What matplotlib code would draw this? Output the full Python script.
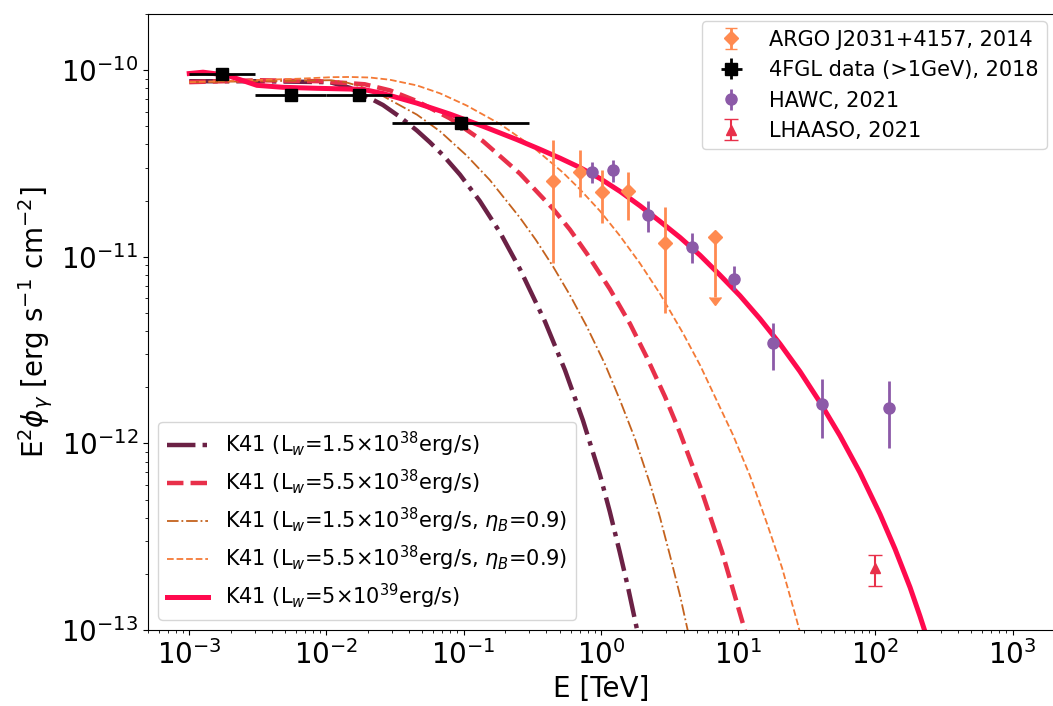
import numpy as np
import matplotlib
matplotlib.use('Agg')
import matplotlib.pyplot as plt

# ---- data ----
# 4FGL (>1 GeV), energy bins in TeV
fgl_E = [1.73e-3, 5.48e-3, 1.73e-2, 9.49e-2]
fgl_Elo = [1.0e-3, 3.0e-3, 1.0e-2, 3.0e-2]
fgl_Ehi = [3.0e-3, 1.0e-2, 3.0e-2, 3.0e-1]
fgl_F = [9.6e-11, 7.4e-11, 7.4e-11, 5.2e-11]
fgl_Flo = [9.2e-11, 7.1e-11, 7.1e-11, 4.8e-11]
fgl_Fhi = [1.0e-10, 7.7e-11, 7.7e-11, 5.6e-11]

# ARGO J2031+4157
argo_E = [0.447, 0.703, 1.02, 1.57, 2.93]
argo_F = [2.54e-11, 2.85e-11, 2.22e-11, 2.25e-11, 1.18e-11]
argo_Flo = [9.25e-12, 2.09e-11, 1.52e-11, 1.57e-11, 4.99e-12]
argo_Fhi = [4.22e-11, 3.73e-11, 2.91e-11, 2.85e-11, 1.85e-11]
argo_ul_E = [6.78]
argo_ul_F = [1.28e-11]
argo_ul_Flo = [6.1e-12]

# HAWC
hawc_E = [0.86, 1.22, 2.20, 4.61, 9.31, 17.9, 40.8, 126.0]
hawc_F = [2.85e-11, 2.91e-11, 1.67e-11, 1.13e-11, 7.60e-12, 3.45e-12, 1.63e-12, 1.55e-12]
hawc_Flo = [2.48e-11, 2.52e-11, 1.36e-11, 9.25e-12, 6.64e-12, 2.47e-12, 1.07e-12, 9.45e-13]
hawc_Fhi = [3.21e-11, 3.29e-11, 1.99e-11, 1.34e-11, 8.92e-12, 4.41e-12, 2.21e-12, 2.16e-12]

# LHAASO
lhaaso_E = [100.0]
lhaaso_F = [2.15e-13]
lhaaso_Flo = [1.72e-13]
lhaaso_Fhi = [2.52e-13]

# model curves
# K41, Lw=1.5e38
k41_a_E = [1e-3, 3.27e-3, 1.06e-2, 1.48e-2, 2.58e-2, 3.43e-2, 4.56e-2, 5.67e-2, 7.05e-2, 9.38e-2,
           0.131, 0.184, 0.257, 0.391, 0.547, 0.739, 0.984, 1.16, 1.37, 1.57,
           1.83, 2.09]
k41_a_F = [8.73e-11, 8.73e-11, 8.63e-11, 8.05e-11, 6.51e-11, 5.62e-11, 4.75e-11, 4.11e-11, 3.51e-11, 2.76e-11,
           1.99e-11, 1.35e-11, 8.59e-12, 4.50e-12, 2.47e-12, 1.33e-12, 6.78e-13, 4.31e-13, 2.62e-13, 1.71e-13,
           1.01e-13, 6.1e-14]

# K41, Lw=5.5e38
k41_b_E = [1e-3, 3.27e-3, 8.95e-3, 1.90e-2, 2.90e-2, 4.56e-2, 7.93e-2, 0.138, 0.257, 0.447,
           0.594, 0.790, 1.16, 1.63, 2.16, 2.93, 3.77, 5.27, 7.63, 10.8,
           12.2]
k41_b_F = [8.63e-11, 8.84e-11, 8.73e-11, 8.41e-11, 7.80e-11, 6.83e-11, 5.52e-11, 4.17e-11, 2.79e-11, 1.81e-11,
           1.40e-11, 1.04e-11, 6.73e-12, 4.37e-12, 2.89e-12, 1.78e-12, 1.14e-12, 5.91e-13, 2.62e-13, 1.09e-13,
           7.9e-14]

# K41, Lw=1.5e38, etaB=0.9
k41_c_E = [1e-3, 3.27e-3, 1.06e-2, 1.36e-2, 1.75e-2, 2.58e-2, 4.56e-2, 6.71e-2, 0.105, 0.155,
           0.257, 0.336, 0.447, 0.594, 0.790, 1.07, 1.37, 1.77, 2.28, 2.69,
           3.18, 3.77, 4.31, 4.76]
k41_c_F = [8.63e-11, 8.73e-11, 8.84e-11, 8.64e-11, 8.21e-11, 7.27e-11, 5.78e-11, 4.71e-11, 3.49e-11, 2.58e-11,
           1.62e-11, 1.23e-11, 8.89e-12, 6.24e-12, 4.22e-12, 2.66e-12, 1.72e-12, 1.06e-12, 6.07e-13, 4.03e-13,
           2.52e-13, 1.53e-13, 9.8e-14, 6.9e-14]

# K41, Lw=5.5e38, etaB=0.9
k41_d_E = [1e-3, 2.77e-3, 6.40e-3, 1.11e-2, 1.48e-2, 2.07e-2, 2.90e-2, 4.56e-2, 6.71e-2, 0.105,
           0.184, 0.319, 0.528, 0.703, 0.984, 1.37, 1.92, 2.69, 3.96, 5.27,
           9.17, 12.2, 16.2, 20.9, 26.8, 30.7]
k41_d_F = [8.63e-11, 8.84e-11, 9.01e-11, 9.18e-11, 9.2e-11, 9.14e-11, 8.89e-11, 8.29e-11, 7.52e-11, 6.47e-11,
           5.15e-11, 3.88e-11, 2.83e-11, 2.30e-11, 1.76e-11, 1.30e-11, 9.25e-12, 6.35e-12, 3.90e-12, 2.63e-12,
           1.11e-12, 6.70e-13, 3.73e-13, 2.15e-13, 1.12e-13, 7.7e-14]

# K41, Lw=5e39
k41_e_E = [1e-3, 1.26e-3, 1.88e-3, 3.11e-3, 4.81e-3, 8.5e-3, 1.84e-2, 2.58e-2, 4.56e-2, 7.93e-2,
           0.138, 0.244, 0.359, 0.503, 0.703, 0.984, 1.38, 1.92, 2.69, 3.77,
           5.27, 7.37, 10.3, 14.4, 20.2, 28.2, 39.5, 55.2, 77.2, 108.0,
           139.0, 179.0, 211.0, 250.0]
k41_e_F = [9.6e-11, 9.76e-11, 9.4e-11, 8.3e-11, 8.1e-11, 8.0e-11, 7.9e-11, 7.5e-11, 6.66e-11, 5.82e-11,
           5.01e-11, 4.25e-11, 3.77e-11, 3.38e-11, 3.01e-11, 2.63e-11, 2.24e-11, 1.88e-11, 1.55e-11, 1.27e-11,
           1.02e-11, 7.98e-12, 6.19e-12, 4.66e-12, 3.41e-12, 2.43e-12, 1.66e-12, 1.10e-12, 6.98e-13, 4.18e-13,
           2.72e-13, 1.69e-13, 1.19e-13, 8.1e-14]

x_ticks = [1e-3, 1e-2, 1e-1, 1e0, 1e1, 1e2, 1e3]
y_ticks = [1e-13, 1e-12, 1e-11, 1e-10]

c_maroon = '#6b2145'
c_red = '#e8304a'
c_brown = '#c4621e'
c_orange = '#f47a36'
c_crimson = '#ff0a4e'
c_argo = '#ff8a50'
c_hawc = '#8c5aa8'

fig = plt.figure(figsize=(10.53, 7.06), dpi=100)
ax = fig.add_axes([0.1405, 0.1076, 0.8604, 0.8725])

l1, = ax.plot(k41_a_E, k41_a_F, color=c_maroon, ls='-.', lw=3.2,
              label=r'K41 (L$_w$=1.5$\times$10$^{38}$erg/s)')
l2, = ax.plot(k41_b_E, k41_b_F, color=c_red, ls='--', lw=3.2,
              label=r'K41 (L$_w$=5.5$\times$10$^{38}$erg/s)')
l3, = ax.plot(k41_c_E, k41_c_F, color=c_brown, ls='-.', lw=1.3,
              label=r'K41 (L$_w$=1.5$\times$10$^{38}$erg/s, $\eta_B$=0.9)')
l4, = ax.plot(k41_d_E, k41_d_F, color=c_orange, ls='--', lw=1.3,
              label=r'K41 (L$_w$=5.5$\times$10$^{38}$erg/s, $\eta_B$=0.9)')
l5, = ax.plot(k41_e_E, k41_e_F, color=c_crimson, ls='-', lw=3.6,
              label=r'K41 (L$_w$=5$\times$10$^{39}$erg/s)')

argo_yerr = [np.array(argo_F) - np.array(argo_Flo), np.array(argo_Fhi) - np.array(argo_F)]
ax.errorbar(argo_E, argo_F, yerr=argo_yerr, fmt='D', color=c_argo, ms=7, lw=2, capsize=0)
e1 = ax.errorbar(argo_ul_E, argo_ul_F, yerr=[np.array(argo_ul_F) - np.array(argo_ul_Flo), [0]],
                 uplims=True, fmt='D', color=c_argo, ms=7, lw=2, capsize=4,
                 label='ARGO J2031+4157, 2014')

fgl_xerr = [np.array(fgl_E) - np.array(fgl_Elo), np.array(fgl_Ehi) - np.array(fgl_E)]
fgl_yerr = [np.array(fgl_F) - np.array(fgl_Flo), np.array(fgl_Fhi) - np.array(fgl_F)]
e2 = ax.errorbar(fgl_E, fgl_F, xerr=fgl_xerr, yerr=fgl_yerr, fmt='s', color='black', ms=8,
                 lw=2, capsize=0, label='4FGL data (>1GeV), 2018')

hawc_yerr = [np.array(hawc_F) - np.array(hawc_Flo), np.array(hawc_Fhi) - np.array(hawc_F)]
e3 = ax.errorbar(hawc_E, hawc_F, yerr=hawc_yerr, fmt='o', color=c_hawc, ms=8, lw=2, capsize=0,
                 label='HAWC, 2021')

lh_yerr = [np.array(lhaaso_F) - np.array(lhaaso_Flo), np.array(lhaaso_Fhi) - np.array(lhaaso_F)]
e4 = ax.errorbar(lhaaso_E, lhaaso_F, yerr=lh_yerr, fmt='^', color=c_red, ms=7, lw=1.5, capsize=5,
                 label='LHAASO, 2021')

ax.set_xscale('log')
ax.set_yscale('log')
ax.set_xticks(x_ticks)
ax.set_yticks(y_ticks)
ax.set_xlim(5e-4, 2e3)
ax.set_ylim(1e-13, 2e-10)
ax.set_xlabel('E [TeV]', fontsize=20)
ax.set_ylabel(r'E$^2\phi_\gamma$ [erg s$^{-1}$ cm$^{-2}$]', fontsize=20)
ax.tick_params(labelsize=20)

leg1 = ax.legend(handles=[e1, e2, e3, e4], loc='upper right', fontsize=15, borderaxespad=0.35)
ax.add_artist(leg1)
ax.legend(handles=[l1, l2, l3, l4, l5], loc='lower left', fontsize=15, labelspacing=0.42)

fig.savefig('out.png', dpi=100)
